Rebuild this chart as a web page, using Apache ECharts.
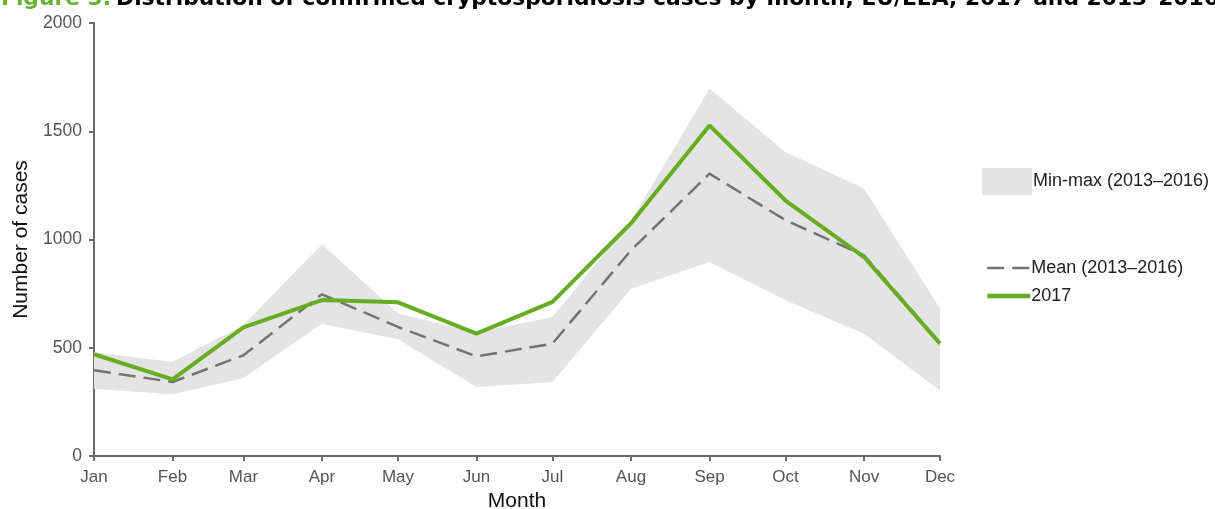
<!DOCTYPE html>
<html>
<head>
<meta charset="utf-8">
<script src="https://cdn.jsdelivr.net/npm/echarts@6/dist/echarts.min.js"></script>
<style>
html,body{margin:0;padding:0;background:#fff;}
#chart{width:1215px;height:509px;}
</style>
</head>
<body>
<div id="chart"></div>
<script>
const monthLabels = ['Jan','Feb','Mar','Apr','May','Jun','Jul','Aug','Sep','Oct','Nov','Dec'];
const year = 2017;
const cases2017 = [470, 354, 594, 720, 710, 565, 712, 1075, 1527, 1180, 919, 519];
const mean2013_2016 = [396, 342, 465, 747, 596, 460, 519, 950, 1304, 1089, 927, 522];
const min2013_2016 = [311, 284, 360, 611, 539, 319, 342, 773, 896, 719, 565, 303];
const max2013_2016 = [480, 434, 605, 978, 658, 570, 642, 1085, 1697, 1404, 1235, 681];

const dates = monthLabels.map((m, i) => year + '-' + String(i + 1).padStart(2, '0') + '-01');
const pair = (arr) => arr.map((v, i) => [dates[i], v]);
const bandDiff = max2013_2016.map((v, i) => [dates[i], v - min2013_2016[i]]);

const chart = echarts.init(document.getElementById('chart'));
const axisColor = '#6b6b6b';
const labelFont = 'Liberation Sans, Arial, sans-serif';

chart.setOption({
  animation: false,
  title: {
    text: '{g|Figure 3.} {b|Distribution of confirmed cryptosporidiosis cases by month, EU/EEA, 2017 and 2013–2016}',
    left: -4,
    top: -17,
    textStyle: {
      rich: {
        g: { color: '#65B32E', fontSize: 21.8, fontWeight: 'bold', fontFamily: 'DejaVu Sans' },
        b: { color: '#000', fontSize: 21.8, fontWeight: 'bold', fontFamily: 'DejaVu Sans' }
      }
    }
  },
  grid: { left: 94, right: 275, top: 23, bottom: 53, containLabel: false, outerBoundsMode: 'none' },
  legend: [
    {
      data: [{ name: 'Min-max (2013–2016)', icon: 'rect' }],
      left: 977, top: 163,
      itemWidth: 50, itemHeight: 27, itemGap: 2,
      textStyle: { fontSize: 18, color: '#222', fontFamily: labelFont, padding: [3, 0, 0, -4] }
    },
    {
      data: [
        { name: 'Mean (2013–2016)', lineStyle: { width: 2.5 } },
        { name: '2017', lineStyle: { width: 4.5 } }
      ],
      orient: 'vertical',
      left: 980, top: 254,
      itemWidth: 43, itemHeight: 14, itemGap: 10,
      itemStyle: { opacity: 0 },
      textStyle: { fontSize: 18, color: '#222', fontFamily: labelFont, padding: [0, 0, 0, -4] }
    }
  ],
  xAxis: {
    type: 'time',
    min: dates[0],
    max: dates[dates.length - 1],
    splitNumber: 11,
    minInterval: 28 * 86400000,
    maxInterval: 31 * 86400000,
    name: 'Month',
    nameLocation: 'middle',
    nameGap: 35,
    nameTextStyle: { fontSize: 21, color: '#111', fontFamily: labelFont },
    axisLine: { show: true, lineStyle: { color: axisColor, width: 2 } },
    axisTick: { show: true, length: 5, lineStyle: { color: axisColor, width: 2 } },
    splitLine: { show: false },
    axisLabel: {
      fontSize: 17, color: '#555', fontFamily: labelFont, margin: 13,
      showMinLabel: true, showMaxLabel: true,
      formatter: (val) => monthLabels[new Date(val).getMonth()]
    }
  },
  yAxis: {
    type: 'value',
    min: 0, max: 2000, interval: 500,
    name: 'Number of cases',
    nameLocation: 'middle',
    nameGap: 60,
    nameTextStyle: { fontSize: 21, color: '#111', fontFamily: labelFont },
    axisLine: { show: true, lineStyle: { color: axisColor, width: 2 } },
    axisTick: { show: true, length: 5, lineStyle: { color: axisColor, width: 2 } },
    splitLine: { show: false },
    axisLabel: { fontSize: 17.5, color: '#555', fontFamily: labelFont, margin: 12, formatter: (v) => String(v) }
  },
  series: [
    {
      name: 'min', type: 'line', stack: 'band', data: pair(min2013_2016),
      symbol: 'none', lineStyle: { opacity: 0 }, silent: true, z: 1
    },
    {
      name: 'Min-max (2013–2016)', type: 'line', stack: 'band', data: bandDiff,
      symbol: 'none', lineStyle: { opacity: 0, width: 0 },
      itemStyle: { color: '#e4e4e4' },
      areaStyle: { color: '#e4e4e4', opacity: 1 }, silent: true, z: 1
    },
    {
      name: 'Mean (2013–2016)', type: 'line', data: pair(mean2013_2016),
      symbol: 'none', itemStyle: { color: '#767272' },
      lineStyle: { color: '#767272', width: 2.5, type: [17, 8] }, z: 3
    },
    {
      name: '2017', type: 'line', data: pair(cases2017),
      symbol: 'none', itemStyle: { color: '#66ad22' },
      lineStyle: { color: '#66ad22', width: 4 }, z: 4
    }
  ]
});
</script>
</body>
</html>
